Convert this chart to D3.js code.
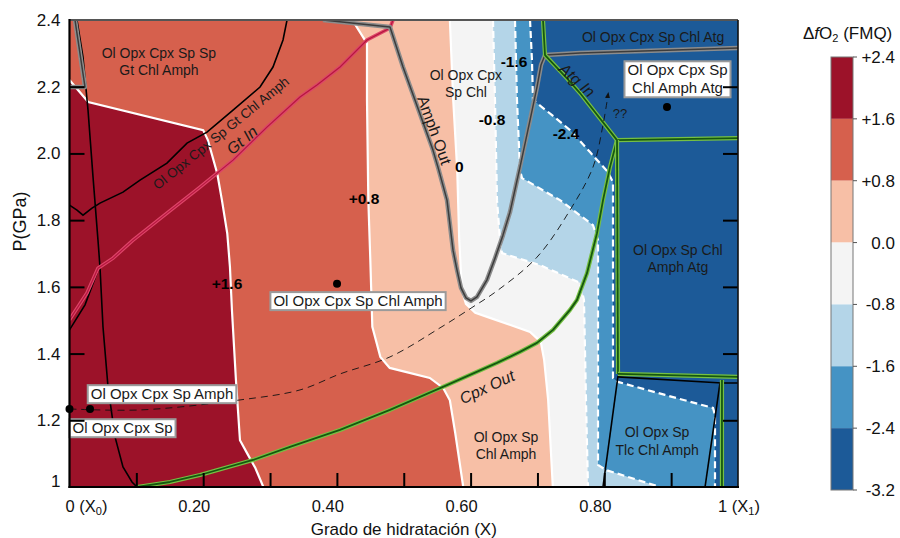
<!DOCTYPE html>
<html><head><meta charset="utf-8">
<script src="https://cdn.jsdelivr.net/npm/d3@7"></script>
<style>
body{margin:0;background:#fff;}
svg{display:block;font-family:"Liberation Sans",Arial,sans-serif;}
</style></head><body>
<svg id="chart" width="900" height="538"></svg>
<script>
// ---------------- DATA ----------------
const bandBreaks = [2.4, 1.6, 0.8, 0, -0.8, -1.6, -2.4, -3.2];
const bandColors = ["#9c1229", "#d6604d", "#f7bfa6", "#f4f4f4", "#b4d5e8", "#4593c4", "#1c5a98"];
const bandLabels = ["+2.4", "+1.6", "+0.8", "0.0", "-0.8", "-1.6", "-2.4", "-3.2"];
const xTicks = [0.1, 0.2, 0.3, 0.4, 0.5, 0.6, 0.7, 0.8, 0.9];
const xTickLabels = [[0, "0 (X", "0"], [0.2, "0.20"], [0.4, "0.40"], [0.6, "0.60"], [0.8, "0.80"], [1, "1 (X", "1"]];
const yTicks = [1.2, 1.4, 1.6, 1.8, 2.0, 2.2];
const yTickLabels = [[1, "1"], [1.2, "1.2"], [1.4, "1.4"], [1.6, "1.6"], [1.8, "1.8"], [2.0, "2.0"], [2.2, "2.2"], [2.4, "2.4"]];

// isolines of ΔfO2 (X, P GPa)
const iso_p16 = [[0,2.22],[0.028,2.154],[0.2,2.07],[0.207,2.04],[0.221,1.94],[0.228,1.86],[0.236,1.76],[0.24,1.66],[0.243,1.53],[0.249,1.32],[0.255,1.14],[0.266,1.10],[0.278,1.057],[0.29,1.0]];
const iso_p08 = [[0.423,2.4],[0.445,2.33],[0.445,2.16],[0.447,1.86],[0.45,1.68],[0.453,1.48],[0.465,1.39],[0.479,1.357],[0.539,1.327],[0.559,1.297],[0.569,1.26],[0.577,1.162],[0.589,1.0]];
const iso_0 = [[0.569,2.4],[0.574,2.16],[0.58,1.95],[0.583,1.74],[0.587,1.59],[0.593,1.549],[0.607,1.522],[0.629,1.507],[0.689,1.465],[0.705,1.435],[0.71,1.381],[0.716,1.261],[0.723,1.0]];
const iso_m08 = [[0.6335,2.4],[0.6365,2.16],[0.6395,1.86],[0.644,1.74],[0.647,1.701],[0.704,1.665],[0.7636,1.612],[0.7696,1.561],[0.7726,1.261],[0.7756,1.0]];
const iso_m16 = [[0.6664,2.4],[0.6694,2.16],[0.6739,1.95],[0.6769,1.926],[0.7337,1.86],[0.7831,1.785],[0.7906,1.74],[0.7906,1.066],[0.8025,1.051],[0.8833,1.0]];
const iso_m24 = [[0.6889,2.4],[0.6918,2.28],[0.6933,2.16],[0.7218,2.115],[0.7487,2.07],[0.7786,2.004],[0.8055,1.944],[0.813,1.914],[0.813,1.327],[0.8205,1.315],[0.8908,1.276],[0.9626,1.237],[0.9656,1.216],[0.9656,1.0]];

// phase boundaries
const blackSteep = [[0.0112,2.4],[0.0202,2.289],[0.0277,2.13],[0.0352,1.929],[0.0426,1.74],[0.0456,1.659],[0.0501,1.48],[0.0576,1.30],[0.0681,1.15],[0.08,1.06],[0.0935,1.015],[0.101,1.0]];
const blackArc = [[0.3254,2.4],[0.3194,2.34],[0.3044,2.259],[0.285,2.199],[0.2446,2.13],[0.2057,2.064],[0.1758,2.031],[0.1458,1.971],[0.1055,1.92],[0.08,1.884],[0.0456,1.851],[0.0337,1.836],[0.0202,1.815],[0.0112,1.83],[0,1.845]];
const blackUnderGt = [[0,1.471],[0.0232,1.546],[0.0426,1.65]];
const blackLowH = [[0.8205,1.330],[0.976,1.312],[1.0,1.312]];
const blackLowL = [[0.8205,1.333],[0.798,1.0]];
const blackLowR = [[0.9731,1.312],[0.9507,1.0]];
const gtIn = [[0,1.501],[0.0262,1.582],[0.0426,1.656],[0.0651,1.686],[0.095,1.74],[0.1458,1.821],[0.1952,1.899],[0.2446,1.98],[0.2954,2.079],[0.3448,2.169],[0.3702,2.205],[0.4047,2.259],[0.445,2.34],[0.4794,2.376],[0.4839,2.4]];
const amphOut = [[0.3792,2.4],[0.4794,2.379],[0.4989,2.259],[0.5168,2.16],[0.5437,2.01],[0.5512,1.959],[0.5647,1.86],[0.5737,1.71],[0.5797,1.65],[0.5856,1.597],[0.5931,1.567],[0.6006,1.558],[0.6096,1.57],[0.6245,1.621],[0.6365,1.686],[0.6484,1.755],[0.6589,1.824],[0.6739,1.959],[0.6889,2.1],[0.6993,2.199],[0.7053,2.265],[0.7113,2.295],[0.7637,2.301],[1.0,2.316]];
const grayCorner = [[0.0082,2.4],[0.0232,2.199],[0,2.199]];
const cpxOut = [[0.101,1.0],[0.1503,1.015],[0.1952,1.036],[0.2745,1.081],[0.3298,1.12],[0.4046,1.171],[0.4794,1.231],[0.5587,1.30],[0.6395,1.372],[0.6739,1.405],[0.6993,1.432],[0.7233,1.471],[0.7487,1.531],[0.7592,1.561],[0.7741,1.641],[0.7891,1.761],[0.7981,1.86],[0.8085,1.959],[0.819,2.04]];
const atgIn = [[0.7083,2.4],[0.7113,2.295],[0.7442,2.225],[0.7636,2.181],[0.819,2.04]];
const greenH1 = [[0.819,2.04],[1.0,2.046]];
const greenV1 = [[0.819,2.04],[0.8205,1.339]];
const greenH2 = [[0.8205,1.339],[1.0,1.330]];
const greenV2 = [[0.976,1.321],[0.976,1.0]];
const reactionPath = [[0,1.234],[0.1055,1.231],[0.255,1.261],[0.3448,1.291],[0.4047,1.339],[0.4794,1.39],[0.5542,1.477],[0.6036,1.54],[0.6395,1.588],[0.6993,1.689],[0.7487,1.83],[0.7831,1.959],[0.798,2.085],[0.8055,2.175]];
const samplePoints = [[0,1.234],[0.0307,1.234],[0.4002,1.609],[0.8938,2.139]];

// annotations: text, X, P
const regionLabels = [
  {lines:["Ol Opx Cpx Sp Sp","Gt Chl Amph"], at:[0.1338,2.2755]},
  {lines:["Ol Opx Cpx","Sp Chl"], at:[0.593,2.2095]},
  {lines:["Ol Opx Sp Chl","Amph Atg"], at:[0.91,1.685]},
  {lines:["Ol Opx Sp","Tlc Chl Amph"], at:[0.879,1.138]},
  {lines:["Ol Opx Sp","Chl Amph"], at:[0.653,1.124]},
  {lines:["Ol Opx Cpx Sp Chl Atg"], at:[0.873,2.349]}
];
const boxLabels = [
  {lines:["Ol Opx Cpx Sp","Chl Amph Atg"], at:[0.9095,2.223]},
  {lines:["Ol Opx Cpx Sp Chl Amph"], at:[0.4316,1.558]},
  {lines:["Ol Opx Cpx Sp Amph"], at:[0.1384,1.279]},
  {lines:["Ol Opx Cpx Sp"], at:[0.0793,1.177]}
];
const lineLabels = [
  {t:"Ol Opx Cpx Sp Gt Chl Amph", at:[0.2266,2.061], rot:-39, it:false, fs:13.5},
  {t:"Gt In", at:[0.258,2.040], rot:-40, it:true, fs:16},
  {t:"Amph Out", at:[0.546,2.070], rot:70, it:false, fs:16},
  {t:"Cpx Out", at:[0.6245,1.300], rot:-25, it:true, fs:16},
  {t:"Atg In", at:[0.7592,2.220], rot:42, it:true, fs:16},
  {t:"??", at:[0.8235,2.121], rot:0, it:false, fs:13}
];
const contourLabels = [
  {t:"+1.6", at:[0.2356,1.611]},
  {t:"+0.8", at:[0.4405,1.866]},
  {t:"0", at:[0.583,1.962]},
  {t:"-0.8", at:[0.632,2.100]},
  {t:"-1.6", at:[0.665,2.274]},
  {t:"-2.4", at:[0.7427,2.061]}
];

// ---------------- DRAW ----------------
const svg = d3.select("#chart");
const x = d3.scaleLinear().domain([0, 1]).range([69.5, 738]);
const y = d3.scaleLinear().domain([1, 2.4]).range([487, 20]);
const line = d3.line().x(d => x(d[0])).y(d => y(d[1]));
const smooth = d3.line().x(d => x(d[0])).y(d => y(d[1])).curve(d3.curveCatmullRom.alpha(0.5));

const defs = svg.append("defs");
defs.append("clipPath").attr("id", "pc").append("rect")
  .attr("x", x(0)).attr("y", y(2.4)).attr("width", x(1) - x(0)).attr("height", y(1) - y(2.4));
defs.append("marker").attr("id", "arr").attr("viewBox", "0 0 10 10").attr("refX", 5).attr("refY", 5)
  .attr("markerWidth", 7).attr("markerHeight", 7).attr("orient", "auto")
  .append("path").attr("d", "M0,1 L10,5 L0,9 z").attr("fill", "#111");

const g = svg.append("g").attr("clip-path", "url(#pc)");
g.append("rect").attr("x", x(0)).attr("y", y(2.4)).attr("width", x(1) - x(0)).attr("height", y(1) - y(2.4))
  .attr("fill", bandColors[6]);

const fills = [[iso_m24, 5], [iso_m16, 4], [iso_m08, 3], [iso_0, 2], [iso_p08, 1], [iso_p16, 0]];
fills.forEach(([pts, ci]) => {
  const poly = (pts[0][0] > 0 ? [[0, 2.4]] : []).concat(pts, [[0, 1]]);
  g.append("path").attr("d", line(poly) + "Z").attr("fill", bandColors[ci]);
});

// contour lines
[iso_p16, iso_p08, iso_0].forEach(p => g.append("path").attr("d", line(p)).attr("fill", "none")
  .attr("stroke", "#fff").attr("stroke-width", 2.2));
[iso_m08, iso_m16, iso_m24].forEach(p => g.append("path").attr("d", line(p)).attr("fill", "none")
  .attr("stroke", "#fff").attr("stroke-width", 2.2).attr("stroke-dasharray", "7,4"));

// black boundaries
[blackSteep, blackArc, blackUnderGt, blackLowH, blackLowL, blackLowR].forEach(p =>
  g.append("path").attr("d", line(p)).attr("fill", "none").attr("stroke", "#000").attr("stroke-width", 1.6));

// pink Gt In
g.append("path").attr("d", line(gtIn)).attr("fill", "none").attr("stroke", "#de4468").attr("stroke-width", 3.6);
g.append("path").attr("d", line(gtIn)).attr("fill", "none").attr("stroke", "#b5173f").attr("stroke-width", 1.2);

// gray Amph Out
[amphOut, grayCorner].forEach(p => {
  g.append("path").attr("d", line(p)).attr("fill", "none").attr("stroke", "#8c8c8c").attr("stroke-width", 4.5).attr("stroke-linejoin", "round");
  g.append("path").attr("d", line(p)).attr("fill", "none").attr("stroke", "#3c3c3c").attr("stroke-width", 1.5).attr("stroke-linejoin", "round");
});

// green lines
[cpxOut, atgIn, greenH1, greenV1, greenH2, greenV2].forEach(p => {
  g.append("path").attr("d", line(p)).attr("fill", "none").attr("stroke", "#76c043").attr("stroke-width", 4.2).attr("stroke-linejoin", "round");
  g.append("path").attr("d", line(p)).attr("fill", "none").attr("stroke", "#15580f").attr("stroke-width", 1.8).attr("stroke-linejoin", "round");
});

// reaction path (dashed)
g.append("path").attr("d", smooth(reactionPath)).attr("fill", "none").attr("stroke", "#111")
  .attr("stroke-width", 0.9).attr("stroke-dasharray", "7,5").attr("marker-end", "url(#arr)");

// text helpers
const ink = "#1a1a1a";
function multi(sel, lines, cx, cy, fs, lh) {
  const t = sel.append("text").attr("text-anchor", "middle").attr("font-size", fs).attr("fill", ink);
  const n = lines.length;
  lines.forEach((s, i) => t.append("tspan").attr("x", cx)
    .attr("y", cy - (n - 1) * lh / 2 + i * lh).attr("dy", "0.35em").text(s));
  return t;
}
const lab = svg.append("g");
regionLabels.forEach(d => multi(lab, d.lines, x(d.at[0]), y(d.at[1]), 14, 17.5));
lineLabels.forEach(d => {
  lab.append("text").attr("transform", `translate(${x(d.at[0])},${y(d.at[1])}) rotate(${d.rot})`)
    .attr("text-anchor", "middle").attr("dy", "0.35em").attr("font-size", d.fs)
    .attr("font-style", d.it ? "italic" : "normal").attr("fill", ink).text(d.t);
});
contourLabels.forEach(d => {
  lab.append("text").attr("x", x(d.at[0])).attr("y", y(d.at[1])).attr("dy", "0.35em")
    .attr("text-anchor", "middle").attr("font-size", 15.5).attr("font-weight", "bold").attr("fill", "#000").text(d.t);
});
boxLabels.forEach(d => {
  const gg = lab.append("g");
  const t = multi(gg, d.lines, x(d.at[0]), y(d.at[1]), 15, 18);
  const b = t.node().getBBox();
  gg.insert("rect", "text").attr("x", b.x - 3).attr("y", b.y).attr("width", b.width + 6).attr("height", b.height + 1)
    .attr("fill", "#fff").attr("stroke", "#9a9a9a").attr("stroke-width", 2);
});

// points
lab.selectAll("circle.pt").data(samplePoints).join("circle").attr("class", "pt")
  .attr("cx", d => x(d[0])).attr("cy", d => y(d[1])).attr("r", 4).attr("fill", "#000");

// axes ticks
const ax = svg.append("g");
ax.append("g").attr("transform", `translate(${x(0)},0)`)
  .call(d3.axisLeft(y).tickValues(yTicks).tickSize(-15).tickFormat(""))
  .call(s => s.select(".domain").remove()).selectAll("line").attr("stroke", "#000").attr("stroke-width", 2);
ax.append("g").attr("transform", `translate(${x(1)},0)`)
  .call(d3.axisRight(y).tickValues(yTicks).tickSize(-15).tickFormat(""))
  .call(s => s.select(".domain").remove()).selectAll("line").attr("stroke", "#000").attr("stroke-width", 2);
ax.append("g").attr("transform", `translate(0,${y(1)})`)
  .call(d3.axisBottom(x).tickValues(xTicks).tickSize(-14).tickFormat(""))
  .call(s => s.select(".domain").remove()).selectAll("line").attr("stroke", "#000").attr("stroke-width", 2);

// frame
ax.append("line").attr("x1", x(0)).attr("x2", x(1)).attr("y1", y(2.4)).attr("y2", y(2.4)).attr("stroke", "#555").attr("stroke-width", 2);
ax.append("line").attr("x1", x(1)).attr("x2", x(1)).attr("y1", y(2.4)).attr("y2", y(1)).attr("stroke", "#111").attr("stroke-width", 1.6);
ax.append("line").attr("x1", x(0)).attr("x2", x(0)).attr("y1", y(2.4) - 1).attr("y2", y(1) + 1).attr("stroke", "#000").attr("stroke-width", 2.2);
ax.append("line").attr("x1", x(0) - 1).attr("x2", x(1) + 1).attr("y1", y(1)).attr("y2", y(1)).attr("stroke", "#000").attr("stroke-width", 2.2);

// tick labels
yTickLabels.forEach(([v, t]) => {
  ax.append("text").attr("x", x(0) - 9).attr("y", y(v) - (v === 1 ? 6 : 0)).attr("dy", "0.35em")
    .attr("text-anchor", "end").attr("font-size", 17).attr("fill", "#111").text(t);
});
xTickLabels.forEach(d => {
  const v = d[0];
  const tx = ax.append("text").attr("y", 512).attr("font-size", 16.5).attr("fill", "#111");
  if (d.length === 3) {
    tx.attr("x", x(v) - (v === 0 ? 4 : 20)).attr("text-anchor", "start");
    tx.append("tspan").text(d[1]);
    tx.append("tspan").attr("font-size", 11).attr("dy", 3).text(d[2]);
    tx.append("tspan").attr("dy", -3).text(")");
  } else {
    tx.attr("x", x(v) - 9).attr("text-anchor", "middle").text(d[1]);
  }
});
ax.append("text").attr("x", (x(0) + x(1)) / 2).attr("y", 535).attr("text-anchor", "middle")
  .attr("font-size", 17).attr("fill", "#111").text("Grado de hidratación (X)");
ax.append("text").attr("transform", `translate(26,${(y(2.4) + y(1)) / 2 - 32}) rotate(-90)`)
  .attr("text-anchor", "middle").attr("font-size", 18).attr("fill", "#111").text("P(GPa)");

// colorbar
const cb = svg.append("g");
const cy = d3.scaleLinear().domain([2.4, -3.2]).range([57, 490]);
bandColors.forEach((c, i) => {
  cb.append("rect").attr("x", 831).attr("width", 22).attr("y", cy(bandBreaks[i])).attr("height", cy(bandBreaks[i + 1]) - cy(bandBreaks[i]))
    .attr("fill", c);
});
cb.append("rect").attr("x", 831).attr("width", 22).attr("y", cy(2.4)).attr("height", cy(-3.2) - cy(2.4))
  .attr("fill", "none").attr("stroke", "#777").attr("stroke-width", 1);
bandBreaks.forEach((v, i) => {
  cb.append("line").attr("x1", 853).attr("x2", 857).attr("y1", cy(v)).attr("y2", cy(v)).attr("stroke", "#555");
  cb.append("text").attr("x", 895).attr("y", cy(v)).attr("dy", "0.35em").attr("text-anchor", "end")
    .attr("font-size", 17).attr("fill", "#111").text(bandLabels[i]);
});
const ttl = cb.append("text").attr("x", 803).attr("y", 39).attr("font-size", 17).attr("fill", "#111");
ttl.append("tspan").text("Δ");
ttl.append("tspan").attr("font-style", "italic").text("f");
ttl.append("tspan").text("O");
ttl.append("tspan").attr("font-size", 11).attr("dy", 3).text("2");
ttl.append("tspan").attr("dy", -3).text(" (FMQ)");
</script>
</body></html>
